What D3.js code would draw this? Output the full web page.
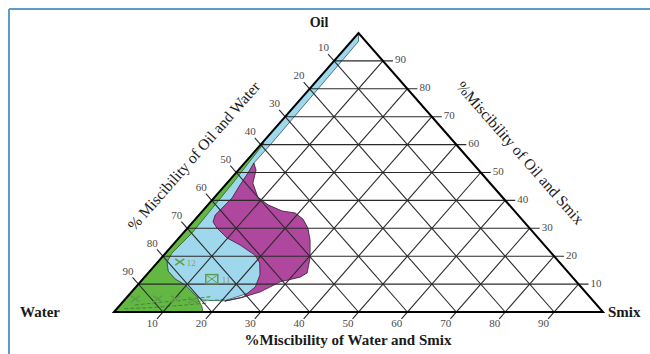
<!DOCTYPE html>
<html lang="en">
<head>
    <meta charset="UTF-8">
    <script src="https://d3js.org/d3.v7.min.js"></script>
    <title>Pseudo-ternary phase diagram</title>
    <style>
        body {
            margin: 0;
            padding: 0;
            background-color: white;
        }
        svg {
            display: block;
            font-family: "Liberation Serif", "Times New Roman", serif;
        }
    </style>
</head>
<body>
    <svg id="chart" width="650" height="354"></svg>
    <script>
        // tick values on the three sides (percent)
        const gridValues = [10, 20, 30, 40, 50, 60, 70, 80, 90];
        const leftTickLabels = ["10", "20", "30", "40", "50", "60", "70", "80", "90"];
        const bottomTickLabels = ["10", "20", "30", "40", "50", "60", "70", "80", "90"];
        const rightTickLabels = ["10", "20", "30", "40", "50", "60", "70", "80", "90"];

        // region outlines as [oil %, smix %] pairs
        const blueRegion = [
            [100, 0], [97, 1.5], [60.6, 2.0], [53.4, 1.9], [42, 6], [29.4, 17.6],
            [15.8, 24.0], [7.5, 25.0], [4.0, 20.6], [4.1, 18.2], [4.3, 16.0],
            [5.4, 14.3], [9.7, 9.7], [11.8, 6.6], [14.7, 3.7], [17.9, 1.9], [21, 0]
        ];
        const magentaRegion = [
            [53.4, 1.9], [50.9, 3.6], [46.2, 5.3], [41.2, 8.8], [38.4, 12.3], [36.2, 16.3],
            [35.5, 19.3], [33.3, 22.0], [30.1, 24.6], [25.8, 27.2], [19.4, 30.4], [14.0, 32.5],
            [12.5, 31.8], [10.8, 28.6], [7.2, 26.3], [5.0, 23.3], [3.9, 20.7],
            [5.4, 23.7], [9.0, 24.4], [13.3, 23.2], [17.6, 21.0], [20.4, 18.6], [24.0, 13.8],
            [26.5, 9.9], [30.1, 6.0], [32.3, 4.1], [34.8, 3.3], [35.8, 3.4], [40.9, 3.7],
            [45.5, 3.0], [49.8, 2.5]
        ];
        const greenRegion = [
            [60.6, 0], [0, 0], [0, 18.2], [1.8, 17.1], [5.4, 14.3], [9.7, 9.7], [11.8, 6.6],
            [14.7, 3.7], [17.9, 1.9], [21.1, 1.3], [28.3, 1.8], [46.2, 1.2], [60.6, 0.4]
        ];

        // formulation points
        const crossPoints = [[17.9, 4.5, "12"], [4.7, 2.0, ""], [4.7, 6.6, ""], [4.7, 10.2, ""], [4.2, 14.0, ""]];
        const boxPoints = [[11.8, 14.1, "11"]];
        const dashedLines = [
            [[2.5, 3], [3.5, 8], [4.5, 13], [5.5, 17]],
            [[1.2, 1.5], [1.6, 7], [2.3, 12], [3.2, 17.5]],
            [[3.8, 15], [4.3, 19], [4.6, 22]]
        ];

        const svg = d3.select("#chart");

        const xScale = d3.scaleLinear().domain([0, 100]).range([114, 603]);
        const yScale = d3.scaleLinear().domain([0, 100]).range([312, 33]);

        // oil sets the height, smix moves to the right
        const proj = (oil, smix) => [xScale(smix + oil / 2), yScale(oil)];
        const line = d3.line().x(d => proj(d[0], d[1])[0]).y(d => proj(d[0], d[1])[1]);

        // frame
        svg.append("line").attr("x1", 9).attr("y1", 9).attr("x2", 650).attr("y2", 9)
            .attr("stroke", "#5b9dc6").attr("stroke-width", 2);
        svg.append("line").attr("x1", 9).attr("y1", 9).attr("x2", 9).attr("y2", 354)
            .attr("stroke", "#5b9dc6").attr("stroke-width", 2);

        // regions
        svg.append("path").attr("d", line(blueRegion) + "Z")
            .attr("fill", "#9fd8ec").attr("stroke", "#2c5560").attr("stroke-width", 0.8);
        svg.append("path").attr("d", line(magentaRegion) + "Z")
            .attr("fill", "#ae479d").attr("stroke", "#3a1838").attr("stroke-width", 0.8);
        svg.append("path").attr("d", line(greenRegion) + "Z")
            .attr("fill", "#62b843").attr("stroke", "#2d5a22").attr("stroke-width", 0.8);

        svg.selectAll(".dash").data(dashedLines).enter().append("path")
            .attr("d", d => line(d))
            .attr("fill", "none")
            .attr("stroke", "#3f8a34")
            .attr("stroke-width", 1)
            .attr("stroke-dasharray", "4,2");

        // grid
        const grid = svg.append("g").attr("stroke", "#2a2a2a").attr("stroke-width", 1.1);
        const tickLen = 9;
        const ux = -(xScale(50) - xScale(0)), uy = yScale(100) - yScale(0);
        const un = Math.hypot(ux, uy);
        const upLeft = [ux / un, uy / un];       // along constant-water lines
        const downLeft = [ux / un, -uy / un];    // along constant-smix lines

        gridValues.forEach(v => {
            // constant oil (horizontal), extends to the right
            const a = proj(v, 0), b = proj(v, 100 - v);
            grid.append("line").attr("x1", a[0]).attr("y1", a[1])
                .attr("x2", b[0] + tickLen + 1).attr("y2", b[1]);
            // constant smix, extends below the base
            const c = proj(0, v), d = proj(100 - v, v);
            grid.append("line").attr("x1", c[0] + downLeft[0] * tickLen).attr("y1", c[1] + downLeft[1] * tickLen)
                .attr("x2", d[0]).attr("y2", d[1]);
            // constant water, extends past the left side
            const e = proj(0, 100 - v), f = proj(100 - v, 0);
            grid.append("line").attr("x1", e[0]).attr("y1", e[1])
                .attr("x2", f[0] + upLeft[0] * tickLen).attr("y2", f[1] + upLeft[1] * tickLen);
        });

        // outline
        const corners = [[0, 0], [100, 0], [0, 100]];
        svg.append("path").attr("d", line(corners) + "Z")
            .attr("fill", "none").attr("stroke", "black").attr("stroke-width", 2)
            .attr("stroke-linejoin", "miter");

        // markers
        const crossSize = 4.5;
        crossPoints.forEach(p => {
            const [x, y] = proj(p[0], p[1]);
            svg.append("path")
                .attr("d", `M${x - crossSize},${y - crossSize * 0.7}L${x + crossSize},${y + crossSize * 0.7}M${x - crossSize},${y + crossSize * 0.7}L${x + crossSize},${y - crossSize * 0.7}`)
                .attr("stroke", "#5f9c4e").attr("stroke-width", 1.6).attr("fill", "none");
            if (p[2]) {
                svg.append("text").attr("x", x + 7).attr("y", y + 4)
                    .attr("font-size", 9).attr("fill", "#8f9c6a").text(p[2]);
            }
        });
        boxPoints.forEach(p => {
            const [x, y] = proj(p[0], p[1]);
            svg.append("rect").attr("x", x - 6).attr("y", y - 4.5).attr("width", 12).attr("height", 9)
                .attr("fill", "none").attr("stroke", "#5f9c4e").attr("stroke-width", 1.5);
            svg.append("path")
                .attr("d", `M${x - 5},${y - 3.5}L${x + 5},${y + 3.5}M${x - 5},${y + 3.5}L${x + 5},${y - 3.5}`)
                .attr("stroke", "#5f9c4e").attr("stroke-width", 1);
            svg.append("text").attr("x", x + 10).attr("y", y + 4)
                .attr("font-size", 9).attr("fill", "#8f9c6a").text(p[2]);
        });

        // tick labels
        const labelOff = 16;
        const tickFont = 11, tickColor = "#4a4a4a";
        gridValues.forEach((v, i) => {
            const f = proj(100 - v, 0);
            svg.append("text")
                .attr("x", f[0] + upLeft[0] * labelOff).attr("y", f[1] + upLeft[1] * labelOff)
                .attr("text-anchor", "middle").attr("dominant-baseline", "middle")
                .attr("font-size", tickFont).attr("fill", tickColor).text(leftTickLabels[i]);
            const c = proj(0, v);
            svg.append("text")
                .attr("x", c[0] + downLeft[0] * labelOff).attr("y", c[1] + downLeft[1] * labelOff)
                .attr("text-anchor", "middle").attr("dominant-baseline", "middle")
                .attr("font-size", tickFont).attr("fill", tickColor).text(bottomTickLabels[i]);
            const b = proj(v, 100 - v);
            svg.append("text")
                .attr("x", b[0] + tickLen + 3).attr("y", b[1])
                .attr("dominant-baseline", "middle")
                .attr("font-size", tickFont).attr("fill", tickColor).text(rightTickLabels[i]);
        });

        // corner names
        svg.append("text").attr("x", 319).attr("y", 27).attr("text-anchor", "middle")
            .attr("font-size", 14).attr("font-weight", "bold").attr("fill", "#1a1a1a").text("Oil");
        svg.append("text").attr("x", 20).attr("y", 317)
            .attr("font-size", 15).attr("font-weight", "bold").attr("fill", "#1a1a1a").text("Water");
        svg.append("text").attr("x", 608).attr("y", 317)
            .attr("font-size", 15).attr("font-weight", "bold").attr("fill", "#1a1a1a").text("Smix");

        // axis titles
        const angle = Math.atan2(-uy, -ux) * 180 / Math.PI;
        svg.append("text").attr("x", 348).attr("y", 345).attr("text-anchor", "middle")
            .attr("font-size", 15).attr("font-weight", "bold").attr("fill", "#1a1a1a")
            .text("%Miscibility of Water and Smix");
        svg.append("text")
            .attr("transform", `translate(195,157) rotate(${-angle})`)
            .attr("text-anchor", "middle").attr("dominant-baseline", "middle")
            .attr("font-size", 15.5).attr("fill", "#1a1a1a")
            .text("% Miscibility of Oil and Water");
        svg.append("text")
            .attr("transform", `translate(519,154) rotate(${angle})`)
            .attr("text-anchor", "middle").attr("dominant-baseline", "middle")
            .attr("font-size", 15.5).attr("fill", "#1a1a1a")
            .text("%Miscibility of Oil and Smix");
    </script>
</body>
</html>
